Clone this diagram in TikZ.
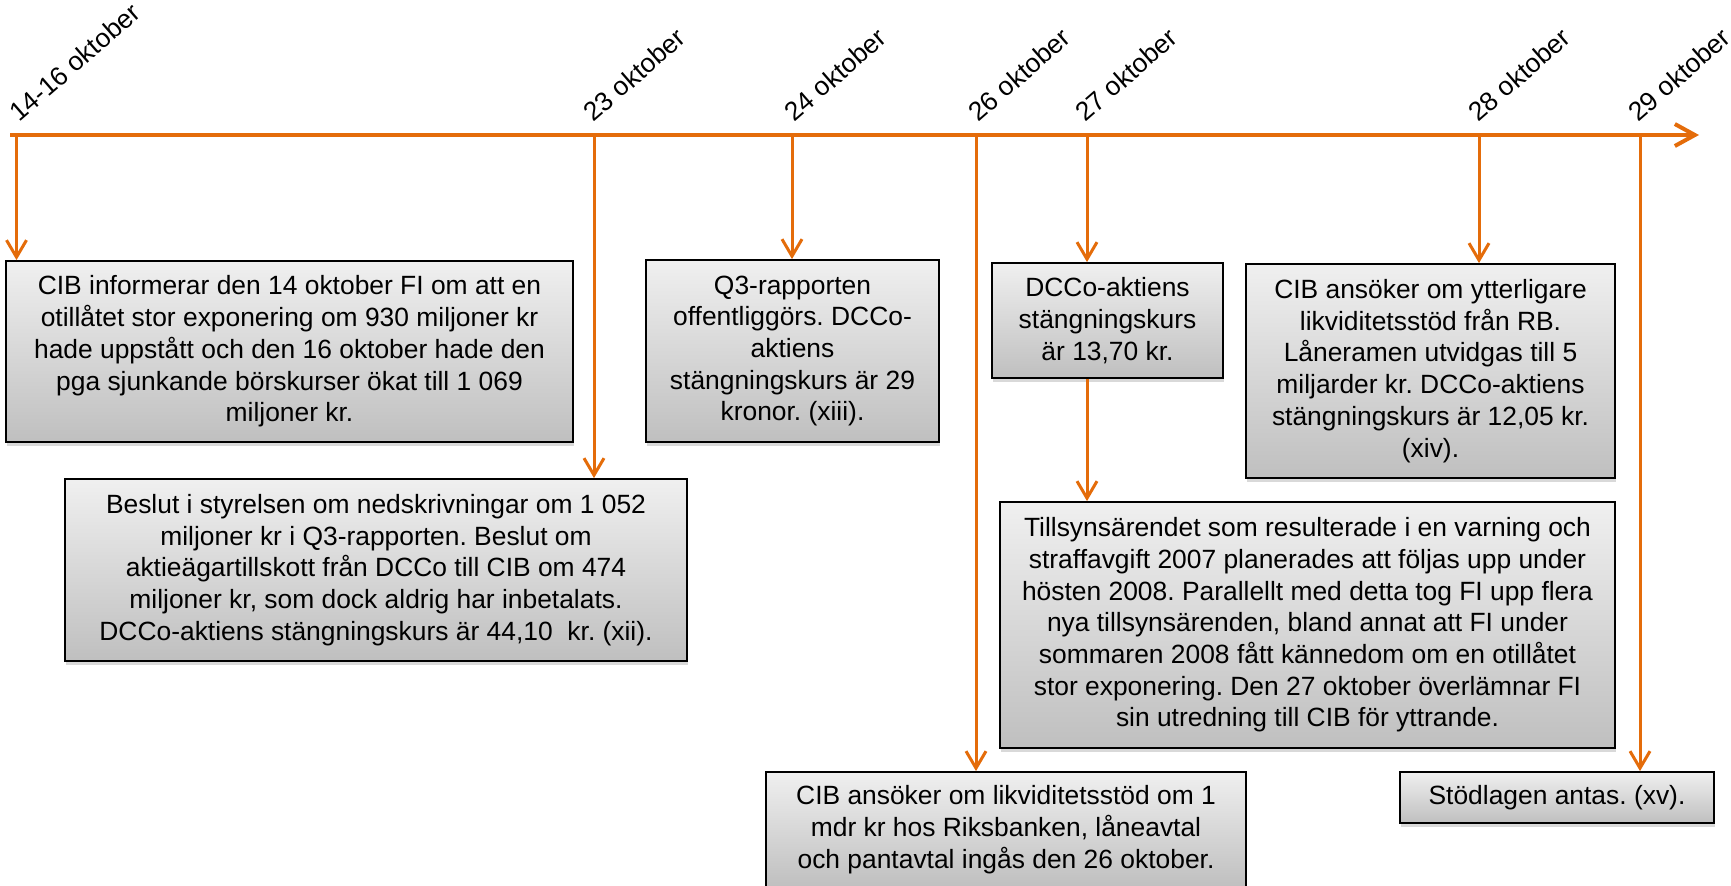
\documentclass[tikz,border=0pt]{standalone}
\usepackage{fontspec}
\setmainfont{Liberation Sans}
\usetikzlibrary{arrows.meta,shadows}
\definecolor{tlorange}{RGB}{228,108,10}
\frenchspacing
\begin{document}
\begin{tikzpicture}[x=0.5pt,y=-0.5pt,
    font=\fontsize{13.2}{15.85}\selectfont,
    datum/.style={anchor=base west,rotate=41,inner sep=0pt},
    event/.style={draw=black,line width=0.9pt,top color=gray!12,bottom color=gray!50,
      align=center,inner sep=0pt,
      drop shadow={opacity=0.3,shadow xshift=0.6pt,shadow yshift=-1.8pt}},
    tidslinje/.style={draw=tlorange,line width=2pt,-{Straight Barb[length=10pt,width=11pt]}},
    pil/.style={draw=tlorange,line width=1.5pt,-{Straight Barb[length=8.5pt,width=10pt]}}]
  \useasboundingbox (0,0) rectangle (1731,885);
  \coordinate (start) at (10,135);
  \coordinate (slut) at (1699,135);
  \draw[tidslinje] (start) -- (slut);
  \coordinate (t1) at (16.5,135);
  \coordinate (t2) at (594,135);
  \coordinate (t3) at (792,135);
  \coordinate (t4) at (976,135);
  \coordinate (t5) at (1087,135);
  \coordinate (t6) at (1479,135);
  \coordinate (t7) at (1640,135);
  \node[datum] (l1) at (19,123) {14-16 oktober};
  \node[datum] (l2) at (593,123) {23 oktober};
  \node[datum] (l3) at (794,123) {24 oktober};
  \node[datum] (l4) at (978,123) {26 oktober};
  \node[datum] (l5) at (1085,123) {27 oktober};
  \node[datum] (l6) at (1478,123) {28 oktober};
  \node[datum] (l7) at (1638,123) {29 oktober};
  \node[event,minimum width=283.5pt,minimum height=90.5pt] (a) at (289.5,351.5)
    {CIB informerar den 14 oktober FI om att en\\otillåtet stor exponering om 930 miljoner kr\\hade uppstått och den 16 oktober hade den\\pga sjunkande börskurser ökat till 1 069\\miljoner kr.};
  \node[event,minimum width=311pt,minimum height=91pt] (b) at (376,570)
    {Beslut i styrelsen om nedskrivningar om 1 052\\miljoner kr i Q3-rapporten. Beslut om\\aktieägartillskott från DCCo till CIB om 474\\miljoner kr, som dock aldrig har inbetalats.\\DCCo-aktiens stängningskurs är 44,10~ kr. (xii).};
  \node[event,minimum width=146.5pt,minimum height=91pt] (c) at (792.5,351)
    {Q3-rapporten\\offentliggörs. DCCo-\\aktiens\\stängningskurs är 29\\kronor. (xiii).};
  \node[event,minimum width=115.5pt,minimum height=57.5pt] (d) at (1107.5,320.5)
    {DCCo-aktiens\\stängningskurs\\är 13,70 kr.};
  \node[event,minimum width=184.5pt,minimum height=107pt] (e) at (1430.5,371)
    {CIB ansöker om ytterligare\\likviditetsstöd från RB.\\Låneramen utvidgas till 5\\miljarder kr. DCCo-aktiens\\stängningskurs är 12,05 kr.\\(xiv).};
  \node[event,minimum width=307.5pt,minimum height=123pt] (f) at (1307.5,625)
    {Tillsynsärendet som resulterade i en varning och\\straffavgift 2007 planerades att följas upp under\\hösten 2008. Parallellt med detta tog FI upp flera\\nya tillsynsärenden, bland annat att FI under\\sommaren 2008 fått kännedom om en otillåtet\\stor exponering. Den 27 oktober överlämnar FI\\sin utredning till CIB för yttrande.};
  \node[event,minimum width=240pt,minimum height=57.5pt] (g) at (1006,829.5)
    {CIB ansöker om likviditetsstöd om 1\\mdr kr hos Riksbanken, låneavtal\\och pantavtal ingås den 26 oktober.};
  \node[event,minimum width=157pt,minimum height=25.5pt] (h) at (1557,797.5)
    {Stödlagen antas. (xv).};
  \begin{scope}[pil]
    \draw (t1) -- (t1 |- a.north);
    \draw (t2) -- (t2 |- b.north);
    \draw (t3) -- (t3 |- c.north);
    \draw (t4) -- (t4 |- g.north);
    \draw (t5) -- (t5 |- d.north);
    \draw (d.south -| t5) -- (t5 |- f.north);
    \draw (t6) -- (t6 |- e.north);
    \draw (t7) -- (t7 |- h.north);
  \end{scope}
\end{tikzpicture}
\end{document}
